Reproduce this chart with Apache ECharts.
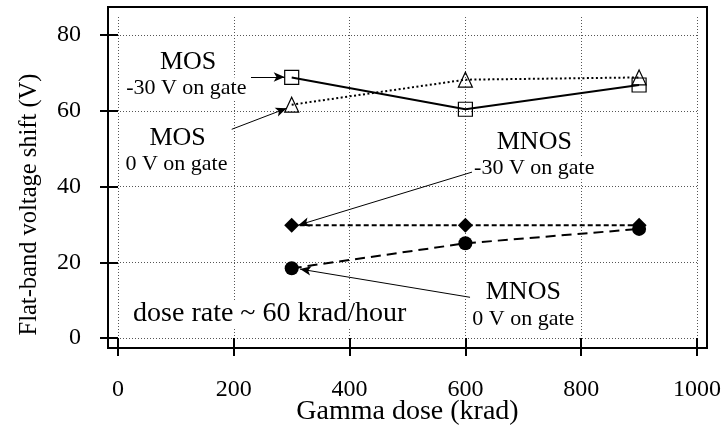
<!DOCTYPE html>
<html>
<head>
<meta charset="utf-8">
<script src="https://cdn.jsdelivr.net/npm/echarts@6/dist/echarts.min.js"></script>
<style>
  html, body { margin: 0; padding: 0; background: #fff; }
  #chart { width: 722px; height: 429px; }
</style>
</head>
<body>
<div id="chart"></div>
<script>
// Flat-band voltage shift versus gamma dose
const doses = [300, 600, 900];              // krad
const mosGateNeg30 = [68.8, 60.4, 66.8];    // V
const mosGate0 = [61.6, 68.2, 68.8];
const mnosGateNeg30 = [29.8, 29.8, 29.8];
const mnosGate0 = [18.4, 25.0, 28.8];
const xRange = [0, 1000], xStep = 200;
const yRange = [0, 80], yStep = 20;

const FONT = 'Liberation Serif';
const INK = '#000';
const GRID_INK = '#555';

// annotation texts, placed in data units
const notes = [
  { text: 'MOS',            at: [121, 72.7], size: 26 },
  { text: '-30 V on gate',  at: [118, 65.9], size: 22 },
  { text: 'MOS',            at: [103, 52.7], size: 26 },
  { text: '0 V on gate',    at: [101, 45.8], size: 22 },
  { text: 'MNOS',           at: [719, 51.6], size: 26 },
  { text: '-30 V on gate',  at: [719, 44.8], size: 22 },
  { text: 'MNOS',           at: [700, 12.0], size: 26 },
  { text: '0 V on gate',    at: [700, 4.9],  size: 22 },
  { text: 'dose rate ~ 60 krad/hour', at: [262, 6.3], size: 28 }
];

// pointer arrows from the annotations to the curves (data units)
const pointers = [
  [[229.7, 68.9], [287.9, 68.9]],
  [[196.4, 55.1], [291.2, 60.65]],
  [[611.4, 43.8], [311.4, 29.8]],
  [[608.0, 10.75], [314.3, 18.2]]
];

const pairs = ys => doses.map((d, i) => [d, ys[i]]);

const chart = echarts.init(document.getElementById('chart'), null, { renderer: 'canvas' });

const baseText = { fontFamily: FONT, color: INK };
const hiddenAxis = { show: false };
const gridCommon = { containLabel: false, outerBoundsMode: 'none' };
const plain = v => String(v);

chart.setOption({
  animation: false,
  backgroundColor: '#fff',
  textStyle: { fontFamily: FONT },
  grid: [
    // main plotting area: 0..1000 by 0..80
    Object.assign({ left: 118, right: 25, top: 35, bottom: 91 }, gridCommon),
    // vertical grid lines reach a little above the top tick
    Object.assign({ left: 118, right: 25, top: 17, bottom: 91 }, gridCommon),
    // horizontal grid lines start at the left frame edge
    Object.assign({ left: 108, right: 25, top: 35, bottom: 91 }, gridCommon)
  ],
  xAxis: [
    {
      gridIndex: 0, type: 'value', min: xRange[0], max: xRange[1], interval: xStep,
      offset: 10,
      axisLine: { show: false },
      axisTick: { show: true, length: 18, lineStyle: { color: INK, width: 2 } },
      axisLabel: Object.assign({ margin: 30, fontSize: 24, formatter: plain }, baseText),
      splitLine: { show: false },
      name: 'Gamma dose (krad)', nameLocation: 'middle', nameGap: 50,
      nameMoveOverlap: false,
      nameTextStyle: Object.assign({ fontSize: 28 }, baseText)
    },
    {
      gridIndex: 1, type: 'value', min: xRange[0], max: xRange[1], interval: xStep,
      axisLine: { show: false }, axisTick: { show: false }, axisLabel: { show: false },
      splitLine: { show: true, lineStyle: { color: GRID_INK, width: 1, type: [1, 2] } }
    },
    Object.assign({ gridIndex: 2, type: 'value', min: xRange[0], max: xRange[1] }, hiddenAxis)
  ],
  yAxis: [
    {
      gridIndex: 0, type: 'value', min: yRange[0], max: yRange[1], interval: yStep,
      offset: 10,
      axisLine: { show: false },
      axisTick: { show: true, length: 18, lineStyle: { color: INK, width: 2 } },
      axisLabel: Object.assign({ margin: 27, fontSize: 24, formatter: plain }, baseText),
      splitLine: { show: false },
      name: 'Flat-band voltage shift (V)', nameLocation: 'middle', nameGap: 66,
      nameMoveOverlap: false,
      nameTextStyle: Object.assign({ fontSize: 24.5, padding: [0, 36, 0, 0] }, baseText)
    },
    Object.assign({ gridIndex: 1, type: 'value', min: yRange[0], max: 84.75 }, hiddenAxis),
    {
      gridIndex: 2, type: 'value', min: yRange[0], max: yRange[1], interval: yStep,
      axisLine: { show: false }, axisTick: { show: false }, axisLabel: { show: false },
      splitLine: { show: true, lineStyle: { color: GRID_INK, width: 1, type: [1, 2] } }
    }
  ],
  graphic: [
    {
      type: 'rect', silent: true, z: 20,
      shape: { x: 108, y: 7, width: 599, height: 341 },
      style: { fill: 'none', stroke: INK, lineWidth: 2 }
    }
  ],
  series: [
    {
      name: 'notes', type: 'scatter', z: 1, silent: true,
      symbolSize: 0,
      itemStyle: { opacity: 1 },
      data: notes.map(n => ({ name: n.text, value: n.at, label: { fontSize: n.size } })),
      label: Object.assign({
        show: true, position: 'inside', formatter: '{b}', opacity: 1,
        backgroundColor: '#fff', padding: [0, 2]
      }, baseText),
      emphasis: { disabled: true }
    },
    {
      name: 'MOS, -30 V on gate', type: 'line', z: 3,
      data: pairs(mosGateNeg30),
      symbol: 'rect', symbolSize: 14,
      itemStyle: { color: 'rgba(0,0,0,0)', borderColor: INK, borderWidth: 1.2 },
      lineStyle: { color: INK, width: 2, type: 'solid' },
      emphasis: { disabled: true }
    },
    {
      name: 'MOS, 0 V on gate', type: 'line', z: 3,
      data: pairs(mosGate0),
      symbol: 'triangle', symbolSize: [14, 15],
      itemStyle: { color: 'rgba(0,0,0,0)', borderColor: INK, borderWidth: 1.2 },
      lineStyle: { color: INK, width: 2, type: [2, 2.5] },
      emphasis: { disabled: true }
    },
    {
      name: 'MNOS, -30 V on gate', type: 'line', z: 3,
      data: pairs(mnosGateNeg30),
      symbol: 'diamond', symbolSize: 15,
      itemStyle: { color: INK },
      lineStyle: { color: INK, width: 2, type: [5, 3] },
      emphasis: { disabled: true }
    },
    {
      name: 'MNOS, 0 V on gate', type: 'line', z: 3,
      data: pairs(mnosGate0),
      symbol: 'circle', symbolSize: 14,
      itemStyle: { color: INK },
      lineStyle: { color: INK, width: 2, type: [10, 6] },
      emphasis: { disabled: true }
    },
    {
      name: 'pointers', type: 'lines', coordinateSystem: 'cartesian2d', z: 4, silent: true,
      data: pointers.map(c => ({ coords: c })),
      symbol: ['none', 'arrow'], symbolSize: [0, [7, 11]],
      lineStyle: { color: INK, width: 1, curveness: 0, opacity: 1 },
      itemStyle: { color: INK }
    }
  ]
});
</script>
</body>
</html>
